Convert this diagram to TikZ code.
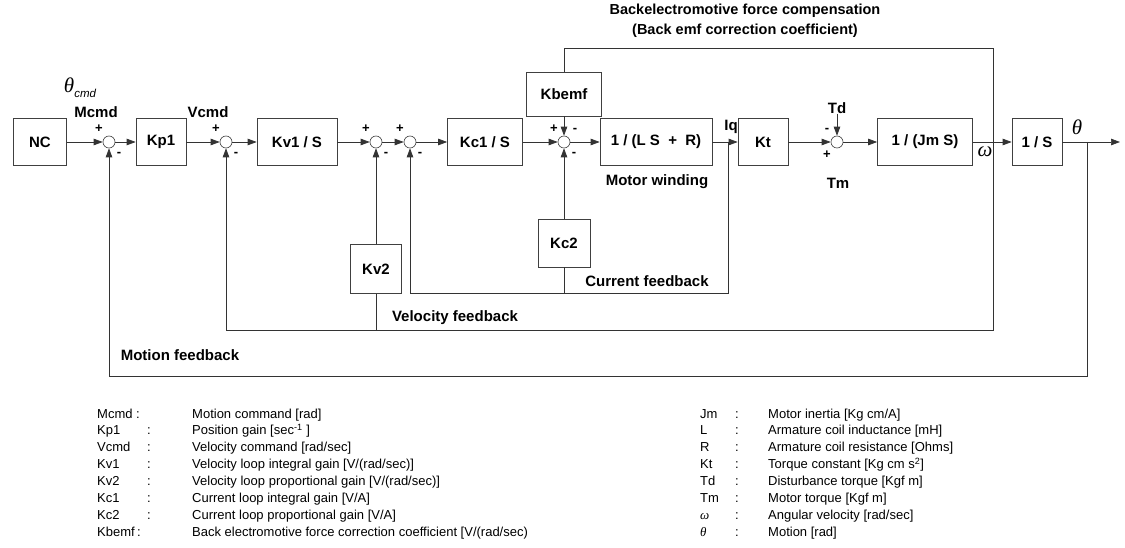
\documentclass[tikz,border=0pt]{standalone}
\usepackage{fontspec}
\setmainfont{Liberation Sans}
\newfontfamily\grk{Liberation Serif}
\usetikzlibrary{arrows.meta}
\begin{document}
\begin{tikzpicture}[x=1pt,y=-1pt,
  ln/.style={draw=black!80,line width=0.7pt},
  arr/.style={ln,-{Triangle[length=9pt,width=6.5pt]}},
  blk/.style={draw=black!75,line width=0.7pt,minimum height=47pt,font=\fontsize{15}{17}\bfseries,inner sep=0pt},
  sm/.style={circle,draw=black!75,line width=0.6pt,minimum size=12pt,inner sep=0pt},
  lab/.style={font=\fontsize{15}{17}\bfseries,inner sep=0pt},
  ttl/.style={font=\fontsize{14.5}{17}\bfseries,inner sep=0pt},
  sgn/.style={font=\fontsize{13}{13}\bfseries,inner sep=0pt},
  leg/.style={font=\fontsize{13}{15}\selectfont,inner sep=0pt,anchor=base west}
]
\useasboundingbox (0,0) rectangle (1125,548);
% title
\node[ttl] (t1) at (745,11) {Backelectromotive force compensation};
\node[ttl] (t2) at (745,31) {(Back emf correction coefficient)};
% main row
\node[blk,minimum width=53pt] (nc) at (40,142) {NC};
\node[sm] (s1) at (109,142) {};
\node[blk,minimum width=50pt] (kp1) at (161,142) {Kp1};
\node[sm] (s2) at (226,142) {};
\node[blk,minimum width=80pt] (kv1) at (297,142) {Kv1 / S};
\node[sm] (s3) at (376,142) {};
\node[sm] (s4) at (410,142) {};
\node[blk,minimum width=75pt] (kc1) at (485,142) {Kc1 / S};
\node[sm] (s5) at (564,142) {};
\node[blk,minimum width=75pt,minimum height=44pt] (kbemf) at (564,94) {Kbemf};
\node[blk,minimum width=112pt] (lsr) at (656,142) {1 / (L S \ + \ R)};
\node[blk,minimum width=50pt] (kt) at (763,142) {Kt};
\node[sm] (s6) at (837,142) {};
\node[blk,minimum width=95pt] (jm) at (925,142) {1 / (Jm S)};
\node[blk,minimum width=50pt] (is) at (1037,142) {1 / S};
\node[blk,minimum width=52pt,minimum height=48pt] (kc2) at (564,243) {Kc2};
\node[blk,minimum width=51pt,minimum height=49pt] (kv2) at (376,269) {Kv2};
% coordinates
\coordinate (iq) at (728,142);
\coordinate (w) at (993,142);
\coordinate (th) at (1087,142);
\coordinate (out) at (1120,142);
\coordinate (bemfR) at (993,48);
\coordinate (bemfL) at (564,48);
\coordinate (cfR) at (728,293);
\coordinate (cfL) at (410,293);
\coordinate (kc2b) at (564,293);
\coordinate (vfR) at (993,330);
\coordinate (vfL) at (226,330);
\coordinate (kv2b) at (376,330);
\coordinate (mfR) at (1087,376);
\coordinate (mfL) at (109,376);
% main connections
\draw[arr] (nc) -- (s1);
\draw[arr] (s1) -- (kp1);
\draw[arr] (kp1) -- (s2);
\draw[arr] (s2) -- (kv1);
\draw[arr] (kv1) -- (s3);
\draw[arr] (s3) -- (s4);
\draw[arr] (s4) -- (kc1);
\draw[arr] (kc1) -- (s5);
\draw[arr] (s5) -- (lsr);
\draw[arr] (lsr) -- (kt);
\draw[arr] (kt) -- (s6);
\draw[arr] (s6) -- (jm);
\draw[arr] (jm) -- (is);
\draw[arr] (is) -- (out);
% back emf
\draw[ln] (w) -- (bemfR) -- (bemfL) -- (kbemf);
\draw[arr] (kbemf) -- (s5);
% current loop
\draw[arr] (iq) -- (cfR) -- (cfL) -- (s4);
\draw[ln] (kc2b) -- (kc2);
\draw[arr] (kc2) -- (s5);
% velocity loop
\draw[arr] (w) -- (vfR) -- (vfL) -- (s2);
\draw[ln] (kv2b) -- (kv2);
\draw[arr] (kv2) -- (s3);
% motion loop
\draw[arr] (th) -- (mfR) -- (mfL) -- (s1);
% Td
\node[lab] (td) at (837,108) {Td};
\draw[arr] (td) -- (s6);
% labels
\node[inner sep=0pt] (thcmd) at (80,88) {{\grk\itshape\fontsize{21}{21}\selectfont θ}\raisebox{-5pt}{\fontsize{11.5}{11.5}\itshape cmd}};
\node[lab] (mcmd) at (96,112) {Mcmd};
\node[lab] (vcmd) at (208,112) {Vcmd};
\node[lab] (iql) at (731,127) {Iq};
\node[lab] (tm) at (838,183) {Tm};
\node[inner sep=0pt] (wl) at (985,152) {\grk\itshape\fontsize{21}{21}\selectfont ω};
\node[inner sep=0pt] (thl) at (1077,127) {\grk\itshape\fontsize{21}{21}\selectfont θ};
\node[lab] (mw) at (657,182) {Motor winding};
\node[lab] (cfb) at (647,281) {Current feedback};
\node[lab] (vfb) at (455,318) {Velocity feedback};
\node[lab] (mfb) at (180,355) {Motion feedback};
% signs
\node[sgn] (p1) at ([shift={(-10,-13)}]s1) {+};
\node[sgn] (m1) at ([shift={(10,12)}]s1) {-};
\node[sgn] (p2) at ([shift={(-10,-13)}]s2) {+};
\node[sgn] (m2) at ([shift={(10,12)}]s2) {-};
\node[sgn] (p3) at ([shift={(-10,-13)}]s3) {+};
\node[sgn] (m3) at ([shift={(10,12)}]s3) {-};
\node[sgn] (p4) at ([shift={(-10,-13)}]s4) {+};
\node[sgn] (m4) at ([shift={(10,12)}]s4) {-};
\node[sgn] (p5) at ([shift={(-10,-13)}]s5) {+};
\node[sgn] (m5a) at ([shift={(11,-12)}]s5) {-};
\node[sgn] (m5b) at ([shift={(10,12)}]s5) {-};
\node[sgn] (m6) at ([shift={(-10,-12)}]s6) {-};
\node[sgn] (p6) at ([shift={(-10,13)}]s6) {+};
% legend left
\foreach \i/\a/\b in {0/Mcmd/{Motion command [rad]},
  1/Kp1/{Position gain [sec\textsuperscript{-1} ]},
  2/Vcmd/{Velocity command [rad/sec]},
  3/Kv1/{Velocity loop integral gain [V/(rad/sec)]},
  4/Kv2/{Velocity loop proportional gain [V/(rad/sec)]},
  5/Kc1/{Current loop integral gain [V/A]},
  6/Kc2/{Current loop proportional gain [V/A]},
  7/Kbemf/{Back electromotive force correction coefficient [V/(rad/sec)}}{
  \node[leg] (la\i) at (97,418+16.9*\i) {\a};
  \node[leg] (lb\i) at (192,418+16.9*\i) {\b};
}
\foreach \i in {1,...,6}{\node[leg] (lc\i) at (147,418+16.9*\i) {:};}
\node[leg] (lc0) at (136,418) {:};
\node[leg] (lc7) at (137,418+16.9*7) {:};
% legend right
\foreach \i/\a/\b in {0/Jm/{Motor inertia [Kg cm/A]},
  1/L/{Armature coil inductance [mH]},
  2/R/{Armature coil resistance [Ohms]},
  3/Kt/{Torque constant [Kg cm s\textsuperscript{2}]},
  4/Td/{Disturbance torque [Kgf m]},
  5/Tm/{Motor torque [Kgf m]},
  6/{{\grk\itshape ω}}/{Angular velocity [rad/sec]},
  7/{{\grk\itshape θ}}/{Motion [rad]}}{
  \node[leg] (ra\i) at (700,418+16.9*\i) {\a};
  \node[leg] (rc\i) at (735,418+16.9*\i) {:};
  \node[leg] (rb\i) at (768,418+16.9*\i) {\b};
}
\end{tikzpicture}
\end{document}
